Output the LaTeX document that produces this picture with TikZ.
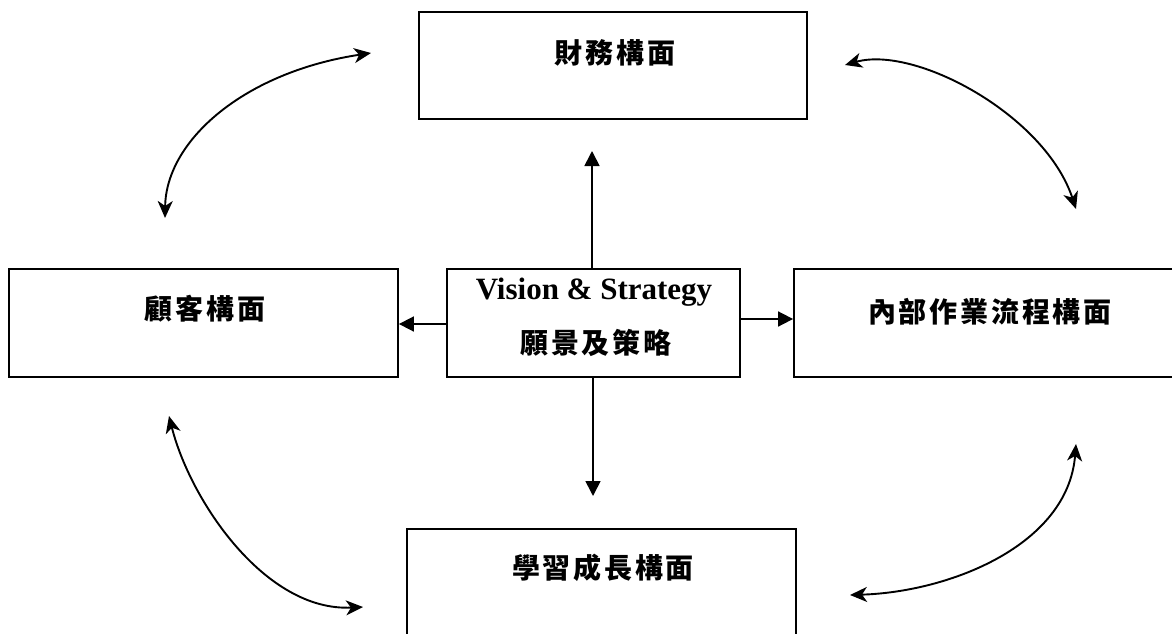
\documentclass[tikz,border=0pt]{standalone}
\usepackage{fontspec}
\setmainfont{Liberation Serif}
\newfontfamily\cjk{Noto Sans CJK TC}[LetterSpace=10]
\usetikzlibrary{arrows.meta}
\begin{document}
\begin{tikzpicture}[x=1pt,y=-1pt,
  box/.style={draw,line width=1.8pt,rectangle,inner sep=0pt},
  lbl/.style={font=\cjk\bfseries\fontsize{28}{31}\selectfont,inner sep=0pt,anchor=center},
  straight/.style={line width=1.7pt,-{Triangle[length=15pt,width=15pt]}},
  curved/.style={line width=1.9pt,{Stealth[length=17pt,width=15pt,inset=5pt]}-{Stealth[length=17pt,width=15pt,inset=5pt]}}]
\clip (0,0) rectangle (1172,634);
\fill[white] (0,0) rectangle (1172,634);
% boxes
\node[box,minimum width=388pt,minimum height=107pt] (fin) at (613,65.5) {};
\node[box,minimum width=389pt,minimum height=108pt] (cus) at (203.5,323) {};
\node[box,minimum width=293pt,minimum height=108pt] (vis) at (593.5,323) {};
\node[box,minimum width=388pt,minimum height=108pt] (int) at (988,323) {};
\node[box,minimum width=389pt,minimum height=107pt] (lrn) at (601.5,582.5) {};
% labels
\node[lbl] (tfin) at (615,53) {財務構面};
\node[lbl] (tcus) at (205,309) {顧客構面};
\node[lbl] (tint) at (990,312) {內部作業流程構面};
\node[lbl] (tlrn) at (603,568) {學習成長構面};
\node[font=\bfseries\fontsize{31}{34}\selectfont,inner sep=0pt] (tvis1) at (594,292) {Vision \& Strategy};
\node[lbl] (tvis2) at (596,343) {願景及策略};
% straight arrows
\coordinate (upend) at (592,151);
\coordinate (downend) at (593,496);
\draw[straight] (vis.north -| upend) -- (upend);
\draw[straight] (vis.south -| downend) -- (downend);
\draw[straight] ([yshift=-1pt]vis.west) -- ([yshift=-1pt]cus.east);
\draw[straight] ([yshift=4pt]vis.east) -- ([yshift=4pt]int.west);
% curved double arrows
\coordinate (a1) at (165,218);
\coordinate (a2) at (371,53);
\draw[curved] (a1) .. controls (166,140) and (245,72) .. (a2);
\coordinate (b1) at (845,65);
\coordinate (b2) at (1076,209);
\draw[curved] (b1) .. controls (915,45) and (1045,115) .. (b2);
\coordinate (c1) at (169,416);
\coordinate (c2) at (363,607);
\draw[curved] (c1) .. controls (190,500) and (265,612) .. (c2);
\coordinate (d1) at (1076,444);
\coordinate (d2) at (850,595);
\draw[curved] (d1) .. controls (1068,545) and (950,592) .. (d2);
\end{tikzpicture}
\end{document}
